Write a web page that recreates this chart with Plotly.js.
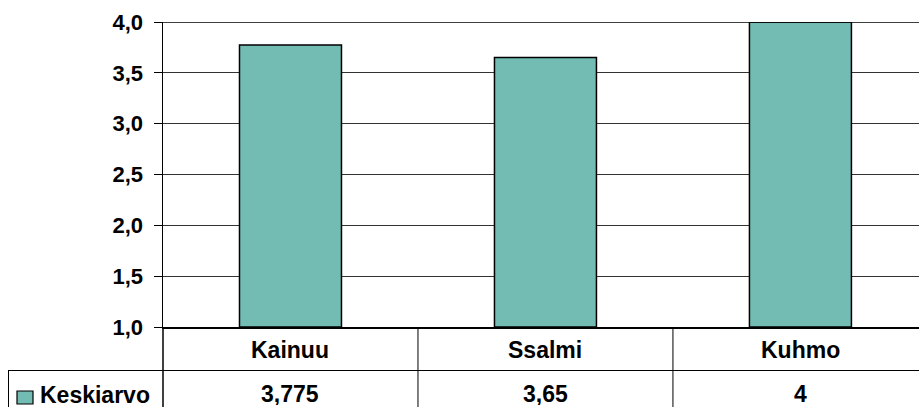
<!DOCTYPE html>
<html>
<head>
<meta charset="utf-8">
<script src="https://cdn.plot.ly/plotly-3.0.1.min.js"></script>
<style>html,body{margin:0;padding:0;background:#fff;}#chart{width:919px;height:407px;}</style>
</head>
<body>
<div id="chart"></div>
<script>
var categories = ["Kainuu", "Ssalmi", "Kuhmo"];
var seriesName = "Keskiarvo";
var values = [3.775, 3.65, 4];
var yTicks = [1.0, 1.5, 2.0, 2.5, 3.0, 3.5, 4.0];

var FONT = "Liberation Sans, Arial, sans-serif";
var BAR = "#72bcb4";

// table geometry in paper coords (plot area: 163..919 px wide 756, 22..327 px high 305)
var W = 756, H = 305;
function px(xp) { return (xp - 163) / W; }
function py(yp) { return -(yp - 327) / H; }

var fmt = function (v) { return String(v).replace('.', ','); };

var shapes = [];
shapes.push({type: 'line', xref: 'paper', yref: 'y', x0: 0, x1: 1, y0: 4, y1: 4, line: {color: '#000', width: 1.5}});
for (var i = 1; i < categories.length; i++) {
  shapes.push({type: 'line', xref: 'x', yref: 'paper', x0: i - 0.5, x1: i - 0.5, y0: 0, y1: py(410), line: {color: '#000', width: 1}});
}
shapes.push({type: 'line', xref: 'paper', yref: 'paper', x0: 0, x1: 0, y0: 0, y1: py(410), line: {color: '#000', width: 1.5}});
shapes.push({type: 'line', xref: 'paper', yref: 'paper', x0: px(8), x1: 1, y0: py(370.5), y1: py(370.5), line: {color: '#000', width: 1}});
shapes.push({type: 'line', xref: 'paper', yref: 'paper', x0: px(8.5), x1: px(8.5), y0: py(370.5), y1: py(410), line: {color: '#000', width: 1}});
shapes.push({type: 'rect', xref: 'paper', yref: 'paper', x0: px(17), x1: px(33), y0: py(391), y1: py(404), fillcolor: BAR, line: {color: '#000', width: 1.2}});

var annotations = [];
categories.forEach(function (c, i) {
  annotations.push({x: c, xref: 'x', y: py(349.5), yref: 'paper', text: '<b>' + c + '</b>', showarrow: false, xanchor: 'center', yanchor: 'middle', font: {family: FONT, size: 23, color: '#000'}});
  annotations.push({x: c, xref: 'x', y: py(394), yref: 'paper', text: '<b>' + fmt(values[i]) + '</b>', showarrow: false, xanchor: 'center', yanchor: 'middle', height: 22, borderpad: 0, font: {family: FONT, size: 23, color: '#000'}});
});
annotations.push({x: px(39), xref: 'paper', y: py(394.5), yref: 'paper', text: '<b>' + seriesName + '</b>', showarrow: false, xanchor: 'left', yanchor: 'middle', height: 22, borderpad: 0, font: {family: FONT, size: 23, color: '#000'}});

var trace = {
  type: 'bar',
  x: categories,
  y: values.map(function (v) { return v - 1; }),
  base: 1,
  name: seriesName,
  width: 0.4,
  marker: {color: BAR, line: {color: '#000', width: 1.5}},
  hoverinfo: 'none'
};

var layout = {
  width: 919, height: 407,
  margin: {l: 163, r: 0, t: 22, b: 80, pad: 0},
  paper_bgcolor: '#fff', plot_bgcolor: '#fff',
  showlegend: false,
  separators: ',.',
  xaxis: {
    type: 'category',
    range: [-0.5, 2.465],
    showticklabels: false,
    ticks: '',
    showgrid: false,
    showline: true, linecolor: '#000', linewidth: 1.5,
    zeroline: false,
    fixedrange: true
  },
  yaxis: {
    range: [1, 4],
    tickvals: yTicks,
    tickformat: '.1f',
    ticks: 'outside', ticklen: 8, tickcolor: '#000', tickwidth: 1,
    tickfont: {family: FONT, size: 22, color: '#000', weight: 'bold'},
    showgrid: true, gridcolor: '#333', gridwidth: 1,
    showline: true, linecolor: '#000', linewidth: 1.5,
    zeroline: false,
    ticklabelstandoff: 6,
    fixedrange: true
  },
  shapes: shapes,
  annotations: annotations
};

Plotly.newPlot('chart', [trace], layout, {displayModeBar: false, staticPlot: true});
</script>
</body>
</html>
